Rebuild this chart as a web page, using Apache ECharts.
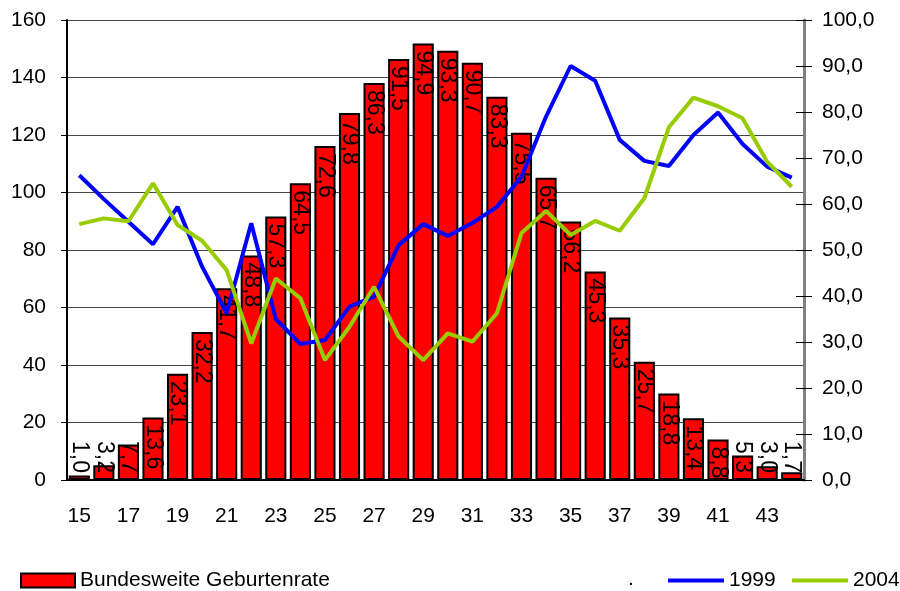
<!DOCTYPE html>
<html>
<head>
<meta charset="utf-8">
<script src="https://cdn.jsdelivr.net/npm/echarts@6/dist/echarts.min.js"></script>
<style>
  html, body { margin: 0; padding: 0; background: #fff; }
  #chart { width: 900px; height: 591px; }
</style>
</head>
<body>
<div id="chart"></div>
<script>
const ages = ['15','16','17','18','19','20','21','22','23','24','25','26','27','28','29',
  '30','31','32','33','34','35','36','37','38','39','40','41','42','43','44']

// Bundesweite Geburtenrate (rechte Achse)
const birthRate = [1.0, 3.2, 7.7, 13.6, 23.1, 32.2, 41.7, 48.8, 57.3, 64.5, 72.6, 79.8, 86.3, 91.5, 94.9,
  93.3, 90.7, 83.3, 75.5, 65.7, 56.2, 45.3, 35.3, 25.7, 18.8, 13.4, 8.8, 5.3, 3.0, 1.7]

// linke Achse
const y1999 = [106, 97.7, 89.8, 82, 95, 74.2, 58, 89.3, 56, 47.3, 48.7, 60.3, 63.8, 81.7, 89,
  84.9, 89.4, 95, 105.5, 126.4, 144, 138.9, 118.3, 111, 109.2, 120, 127.8, 116.9, 109, 105.2]
const y2004 = [89, 91, 90, 103.2, 88.7, 83.2, 73, 47.5, 70.1, 63.2, 41.7, 53.3, 67.2, 49.9, 41.7,
  51, 48.1, 58, 85.9, 93.6, 85.2, 90.1, 86.7, 98, 122.7, 133, 130, 125.8, 110.7, 102]

const font = "'Liberation Sans', Arial, sans-serif"
const comma = v => v.toFixed(1).replace('.', ',')

// kleine Balken: Beschriftung oberhalb des Achsenbodens
let barData = birthRate.map(v => {
  if (v < 8.5) {
    return { value: v, label: { position: 'insideBottom', align: 'right', distance: 7 } }
  }
  return v
})

let legendText = { fontSize: 21, color: '#000', fontFamily: font }

let chart = echarts.init(document.getElementById('chart'))
chart.setOption({
  animation: false,
  textStyle: { fontFamily: font },
  grid: { left: 67, right: 96, top: 20, bottom: 111 },
  legend: [{
    left: 20,
    top: 570,
    padding: 0,
    icon: 'rect',
    itemWidth: 54,
    itemHeight: 14,
    textStyle: legendText,
    data: ['Bundesweite Geburtenrate']
  }, {
    left: 668,
    top: 570,
    padding: 0,
    icon: 'rect',
    itemWidth: 56,
    itemHeight: 4,
    textStyle: legendText,
    data: ['1999']
  }, {
    left: 792,
    top: 570,
    padding: 0,
    icon: 'rect',
    itemWidth: 56,
    itemHeight: 4,
    textStyle: legendText,
    data: ['2004']
  }],
  graphic: [{
    type: 'text',
    left: 628,
    top: 569,
    style: { text: '.', fontSize: 21, fill: '#000', fontFamily: font }
  }],
  xAxis: {
    type: 'category',
    data: ages,
    boundaryGap: true,
    axisLine: { lineStyle: { color: '#000', width: 2 } },
    axisTick: { length: 7, lineStyle: { color: '#000' } },
    axisLabel: { interval: 1, margin: 26, fontSize: 21, color: '#000' }
  },
  yAxis: [{
    type: 'value',
    min: 0,
    max: 160,
    interval: 20,
    axisLine: { show: true, lineStyle: { color: '#000', width: 2 } },
    axisTick: { show: true, length: 6, lineStyle: { color: '#000' } },
    axisLabel: { fontSize: 21, color: '#000', margin: 21 },
    splitLine: { lineStyle: { color: '#444', width: 1 } }
  }, {
    type: 'value',
    position: 'right',
    min: 0,
    max: 100,
    interval: 10,
    axisLine: { show: true, lineStyle: { color: '#808080', width: 3 } },
    axisTick: { show: true, length: 8, lineStyle: { color: '#000' } },
    axisLabel: { fontSize: 21, color: '#000', margin: 18, formatter: comma },
    splitLine: { show: false }
  }, {
    type: 'value',
    position: 'right',
    min: 0,
    max: 100,
    interval: 10,
    axisLine: { show: false },
    axisTick: { show: true, inside: true, length: 8, lineStyle: { color: '#000' } },
    axisLabel: { show: false },
    splitLine: { show: false }
  }],
  series: [{
    name: 'Bundesweite Geburtenrate',
    type: 'bar',
    yAxisIndex: 1,
    data: barData,
    barCategoryGap: '14%',
    itemStyle: { color: '#ff0000', borderColor: '#000', borderWidth: 2 },
    label: {
      show: true,
      position: 'insideTop',
      distance: 7,
      rotate: -90,
      align: 'left',
      verticalAlign: 'middle',
      fontSize: 23,
      color: '#000',
      formatter: p => comma(p.value)
    }
  }, {
    name: '1999',
    type: 'line',
    data: y1999,
    symbol: 'none',
    lineStyle: { color: '#0000ff', width: 4 },
    itemStyle: { color: '#0000ff' }
  }, {
    name: '2004',
    type: 'line',
    data: y2004,
    symbol: 'none',
    lineStyle: { color: '#99cc00', width: 4 },
    itemStyle: { color: '#99cc00' }
  }]
})
</script>
</body>
</html>
